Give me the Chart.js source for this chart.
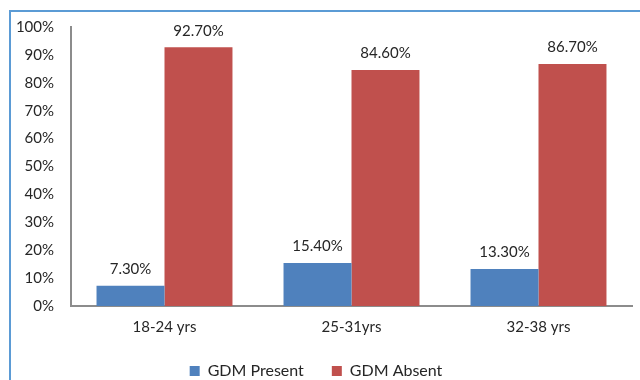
<!DOCTYPE html>
<html>
<head>
<meta charset="utf-8">
<script src="https://cdn.jsdelivr.net/npm/chart.js@4/dist/chart.umd.min.js"></script>
<style>
  html, body { margin: 0; padding: 0; background: #fff; }
  #wrap { position: relative; width: 640px; height: 380px; overflow: hidden; }
  #frame { position: absolute; left: 9px; top: 10px; width: 700px; height: 400px;
           border-top: 2px solid #5b9bd5; border-left: 2px solid #5b9bd5; box-sizing: border-box; }
  canvas { position: absolute; left: 0; top: 0; }
</style>
</head>
<body>
<div id="wrap">
  <div id="frame"></div>
  <canvas id="c" width="640" height="389"></canvas>
</div>
<script>
const categories = ['18-24 yrs', '25-31yrs', '32-38 yrs'];
const gdmPresent = [7.3, 15.4, 13.3];
const gdmAbsent = [92.7, 84.6, 86.7];
const seriesNames = ['GDM Present', 'GDM Absent'];

const FONT = 'Lato, "Open Sans", sans-serif';
const TEXT = '#262626';

// Percentage labels above each bar
const valueLabels = {
  id: 'valueLabels',
  afterDatasetsDraw(chart) {
    const ctx = chart.ctx;
    ctx.save();
    ctx.font = '15px ' + FONT;
    ctx.fillStyle = TEXT;
    ctx.textAlign = 'center';
    ctx.textBaseline = 'bottom';
    chart.data.datasets.forEach((ds, i) => {
      chart.getDatasetMeta(i).data.forEach((bar, j) => {
        ctx.fillText(ds.data[j].toFixed(2) + '%', bar.x, bar.y - 9);
      });
    });
    ctx.restore();
  }
};

new Chart(document.getElementById('c'), {
  type: 'bar',
  data: {
    labels: categories,
    datasets: [
      { label: seriesNames[0], data: gdmPresent, backgroundColor: '#4f81bd',
        barPercentage: 1, categoryPercentage: 0.727 },
      { label: seriesNames[1], data: gdmAbsent, backgroundColor: '#c0504d',
        barPercentage: 1, categoryPercentage: 0.727 }
    ]
  },
  options: {
    responsive: false,
    animation: false,
    layout: { padding: { top: 27, right: 8, left: 0, bottom: 0 } },
    plugins: {
      tooltip: { enabled: false },
      legend: {
        position: 'bottom',
        labels: {
          font: { family: FONT, size: 16 },
          color: TEXT,
          boxWidth: 10, boxHeight: 10,
          padding: 28
        }
      }
    },
    scales: {
      x: {
        grid: { display: false, drawTicks: false },
        border: { color: '#8c8c8c', width: 2 },
        ticks: { font: { family: FONT, size: 15 }, color: TEXT, padding: 12 },
        afterFit(s) { s.height = 29; }
      },
      y: {
        min: 0, max: 100,
        grid: { display: false, drawTicks: false },
        border: { color: '#8c8c8c', width: 2 },
        ticks: { stepSize: 10, font: { family: FONT, size: 15 }, color: TEXT, padding: 17,
                 callback: v => v + '%' },
        afterFit(s) { s.width = 71; }
      }
    }
  },
  plugins: [valueLabels]
});
</script>
</body>
</html>
